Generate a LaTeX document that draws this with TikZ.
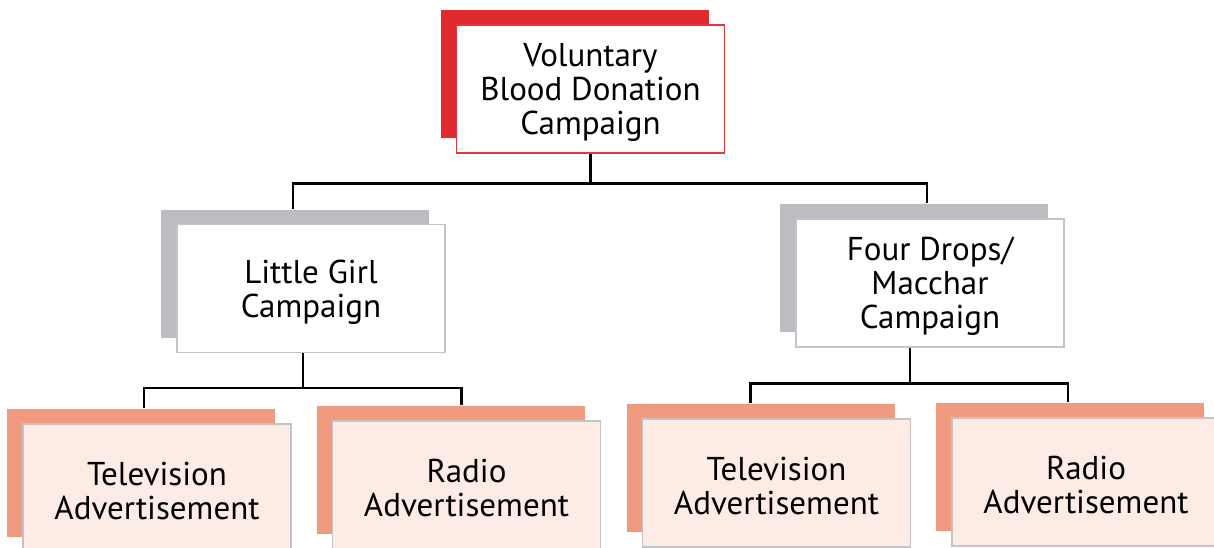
\documentclass[tikz,border=0pt]{standalone}
\usepackage{fontspec}
\setmainfont{PT Sans}
\usetikzlibrary{shadows}
\definecolor{redback}{HTML}{E2292F}
\definecolor{redline}{HTML}{E8343A}
\definecolor{greyback}{HTML}{BCBDC0}
\definecolor{salmonback}{HTML}{F09A80}
\definecolor{pinkfill}{HTML}{FDEBE5}
\definecolor{boxline}{HTML}{C4C4C6}
\begin{document}
\begin{tikzpicture}[x=1pt,y=-1pt,
						box/.style={rectangle,minimum width=268pt,minimum height=128pt,inner sep=0pt,align=center,
							font=\fontsize{33}{34}\selectfont,line width=1.3pt},
						topbox/.style={box,draw=redline,fill=white,drop shadow={opacity=1,fill=redback,shadow xshift=-16pt,shadow yshift=15pt}},
						midbox/.style={box,draw=boxline,fill=white,drop shadow={opacity=1,fill=greyback,shadow xshift=-16pt,shadow yshift=15pt}},
						lowbox/.style={box,draw=boxline,fill=pinkfill,drop shadow={opacity=1,fill=salmonback,shadow xshift=-16pt,shadow yshift=15pt}},
						conn/.style={draw=black,line width=2.4pt}]
					\useasboundingbox (0,0) rectangle (1214,547);
					\node[topbox] (vbd) at (590.5,89) {\\[-4pt]Voluntary\\Blood Donation\\Campaign};
					\node[midbox] (lg) at (311,288.5) {\\[-4pt]Little Girl\\Campaign};
					\node[midbox] (fd) at (930,283) {\\[-4pt]Four Drops/\\Macchar\\Campaign};
					\node[lowbox] (lgtv) at (157,488) {\\[-4pt]Television\\Advertisement};
					\node[lowbox] (lgradio) at (466.5,485) {\\[-4pt]Radio\\Advertisement};
					\node[lowbox] (fdtv) at (776.5,483) {\\[-4pt]Television\\Advertisement};
					\node[lowbox] (fdradio) at (1086,482) {\\[-4pt]Radio\\Advertisement};
					% top level
					\draw[conn] (vbd.south) -- ++(0,30) -| ([xshift=-18pt,yshift=15pt]lg.north);
					\draw[conn] (vbd.south) -- ++(0,30) -| ([xshift=-3pt,yshift=15pt]fd.north);
					% little girl
					\draw[conn] ([xshift=-8pt]lg.south) -- ++(0,35) -| ([xshift=-13pt,yshift=15pt]lgtv.north);
					\draw[conn] ([xshift=-8pt]lg.south) -- ++(0,35) -| ([xshift=-5pt,yshift=15pt]lgradio.north);
					% four drops
					\draw[conn] ([xshift=-20pt]fd.south) -- ++(0,36) -| ([xshift=-26pt,yshift=15pt]fdtv.north);
					\draw[conn] ([xshift=-20pt]fd.south) -- ++(0,36) -| ([xshift=-18pt,yshift=15pt]fdradio.north);
				\end{tikzpicture}
\end{document}
